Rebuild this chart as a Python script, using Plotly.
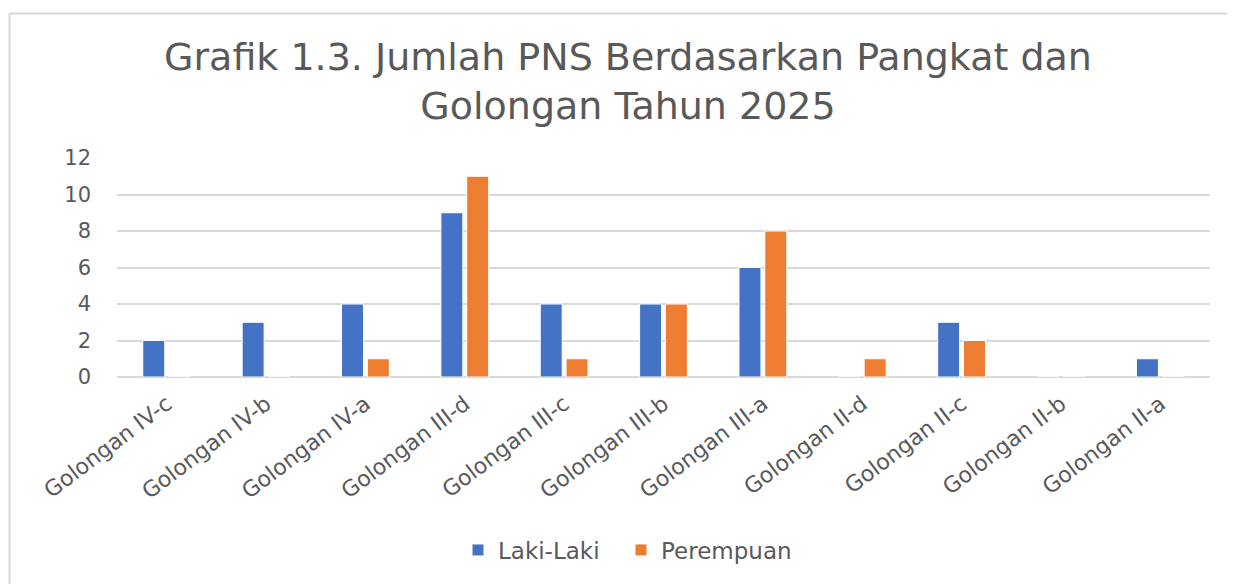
import plotly.graph_objects as go

categories = ["Golongan IV-c", "Golongan IV-b", "Golongan IV-a", "Golongan III-d",
              "Golongan III-c", "Golongan III-b", "Golongan III-a", "Golongan II-d",
              "Golongan II-c", "Golongan II-b", "Golongan II-a"]
laki_laki = [2, 3, 4, 9, 4, 4, 6, 0, 3, 0, 1]
perempuan = [0, 0, 1, 11, 1, 4, 8, 1, 2, 0, 0]
y_ticks = [0, 2, 4, 6, 8, 10, 12]

TXT = "#595959"
GRID = "#d9d9d9"
FONT = "DejaVu Sans, sans-serif"

fig = go.Figure()
fig.add_trace(go.Bar(name="Laki-Laki", x=categories, y=laki_laki, legend="legend",
                     marker=dict(color="#4472C4", line=dict(color="white", width=1))))
fig.add_trace(go.Bar(name="Perempuan", x=categories, y=perempuan, legend="legend2",
                     marker=dict(color="#ED7D31", line=dict(color="white", width=1))))

OFF = 8  # page body margin
W, H = 1235 - OFF, 584 - OFF
# target page coordinates of plot area
PL, PR, PT, PB = 117, 1210, 158, 377
L, R, T, B = PL - OFF, (1235 - PR), PT - OFF, (584 - PB)
pw, ph = W - L - R, H - T - B

def px(x):
    # page x -> paper fraction
    return (x - PL) / pw

def py(y):
    # page y -> paper fraction
    return (PB - y) / ph

legend_style = dict(orientation="h", xanchor="left", y=py(550), yanchor="middle",
                    font=dict(family=FONT, size=23, color=TXT), itemwidth=30,
                    bgcolor="rgba(0,0,0,0)")

fig.update_layout(
    width=W, height=H,
    margin=dict(l=L, r=R, t=T, b=B, pad=0),
    paper_bgcolor="white", plot_bgcolor="white",
    font=dict(family=FONT, color=TXT, size=20),
    title=dict(text="Grafik 1.3. Jumlah PNS Berdasarkan Pangkat dan<br>Golongan Tahun 2025",
               font=dict(family=FONT, size=38, color=TXT),
               x=(628 - OFF) / W, xanchor="center", xref="container",
               y=1 - 62 / H, yanchor="top", yref="container"),
    barmode="group", bargap=0.48, bargroupgap=0.15,
    showlegend=True,
    legend=dict(x=px(458), **legend_style),
    legend2=dict(x=px(621), **legend_style),
    xaxis=dict(tickangle=-37, showgrid=False, showline=False, zeroline=False,
               tickfont=dict(family=FONT, size=22, color=TXT), ticklabelstandoff=9),
    yaxis=dict(range=[0, 12], tickvals=y_ticks, showgrid=True, gridcolor=GRID, gridwidth=2,
               zeroline=True, zerolinecolor=GRID, zerolinewidth=2, showline=False,
               tickfont=dict(family=FONT, size=21, color=TXT), ticklabelstandoff=25),
    shapes=[
        dict(type="line", xref="paper", yref="paper", x0=px(9.5), x1=px(1240),
             y0=py(13.5), y1=py(13.5), line=dict(color=GRID, width=2)),
        dict(type="line", xref="paper", yref="paper", x0=px(9.5), x1=px(9.5),
             y0=py(13.5), y1=py(600), line=dict(color=GRID, width=2)),
    ],
)

fig.write_html("out.html")
